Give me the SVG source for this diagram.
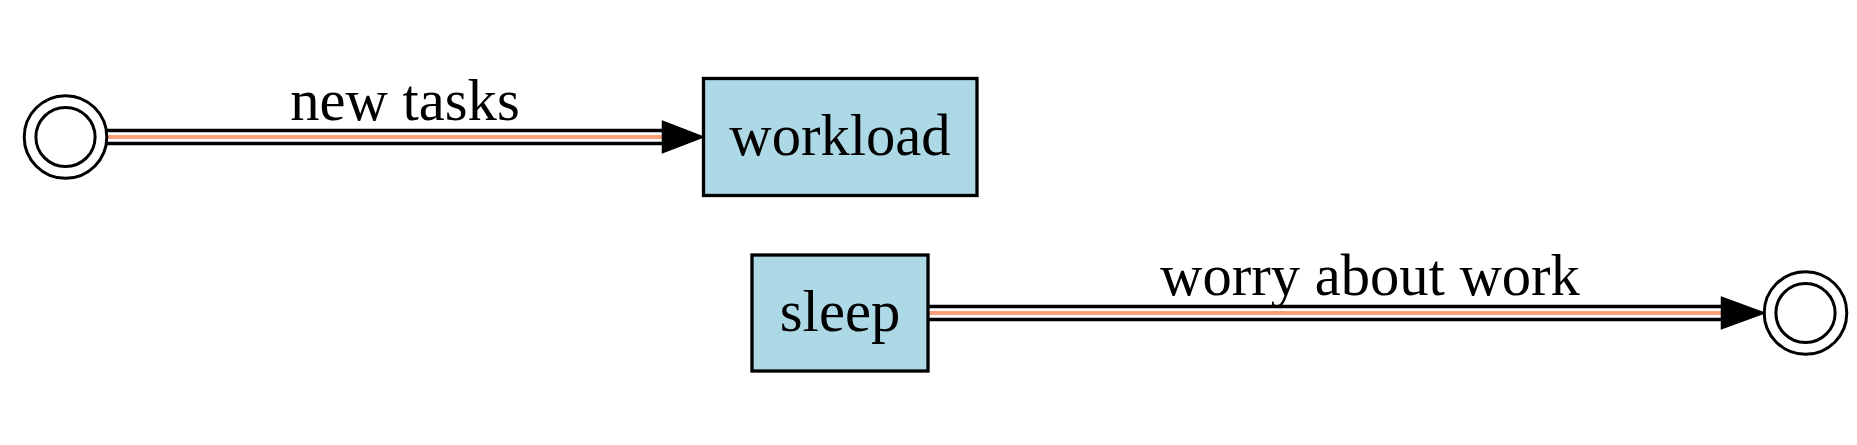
<svg xmlns="http://www.w3.org/2000/svg" width="1857" height="445" viewBox="0 0 1857 445">
<style>
  .bg { fill: #ffffff; }
  .box { fill: #add8e6; stroke: #000000; stroke-width: 3.3; }
  .ring { fill: none; stroke: #000000; stroke-width: 3; }
  .lbl { font-family: "Liberation Serif", "Times New Roman", serif; font-size: 58.6px; fill: #000000; text-anchor: middle; }
  .rail { stroke: #000000; stroke-width: 3.5; fill: none; }
  .core { stroke: #ffa07a; stroke-width: 4; fill: none; }
  .head { fill: #000000; stroke: #000000; stroke-width: 2.5; }
</style>
<rect class="bg" x="0" y="0" width="1857" height="445"/>

<g id="connectors">
  <g id="edge-start-workload">
    <line class="rail" x1="107" y1="130.5" x2="664" y2="130.5"/>
    <line class="core" x1="107" y1="137" x2="664" y2="137"/>
    <line class="rail" x1="107" y1="143.5" x2="664" y2="143.5"/>
    <polygon class="head" points="663,122 702,137 663,152"/>
    <text class="lbl" x="405" y="120">new tasks</text>
  </g>
  <g id="edge-sleep-end">
    <line class="rail" x1="928" y1="306.5" x2="1723" y2="306.5"/>
    <line class="core" x1="928" y1="313" x2="1723" y2="313"/>
    <line class="rail" x1="928" y1="319.5" x2="1723" y2="319.5"/>
    <polygon class="head" points="1722,298 1763,313 1722,328"/>
    <text class="lbl" x="1370" y="295">worry about work</text>
  </g>
</g>

<g id="start">
  <circle class="ring" cx="65.5" cy="137" r="41.3"/>
  <circle class="ring" cx="65.5" cy="137" r="29.6"/>
</g>

<g id="workload">
  <rect class="box" x="703.5" y="78.5" width="273.5" height="117"/>
  <text class="lbl" x="840" y="154.5">workload</text>
</g>

<g id="sleep">
  <rect class="box" x="752" y="255" width="176" height="116"/>
  <text class="lbl" x="840" y="330.5">sleep</text>
</g>

<g id="end">
  <circle class="ring" cx="1805.5" cy="313" r="41.3"/>
  <circle class="ring" cx="1805.5" cy="313" r="29.6"/>
</g>
</svg>
